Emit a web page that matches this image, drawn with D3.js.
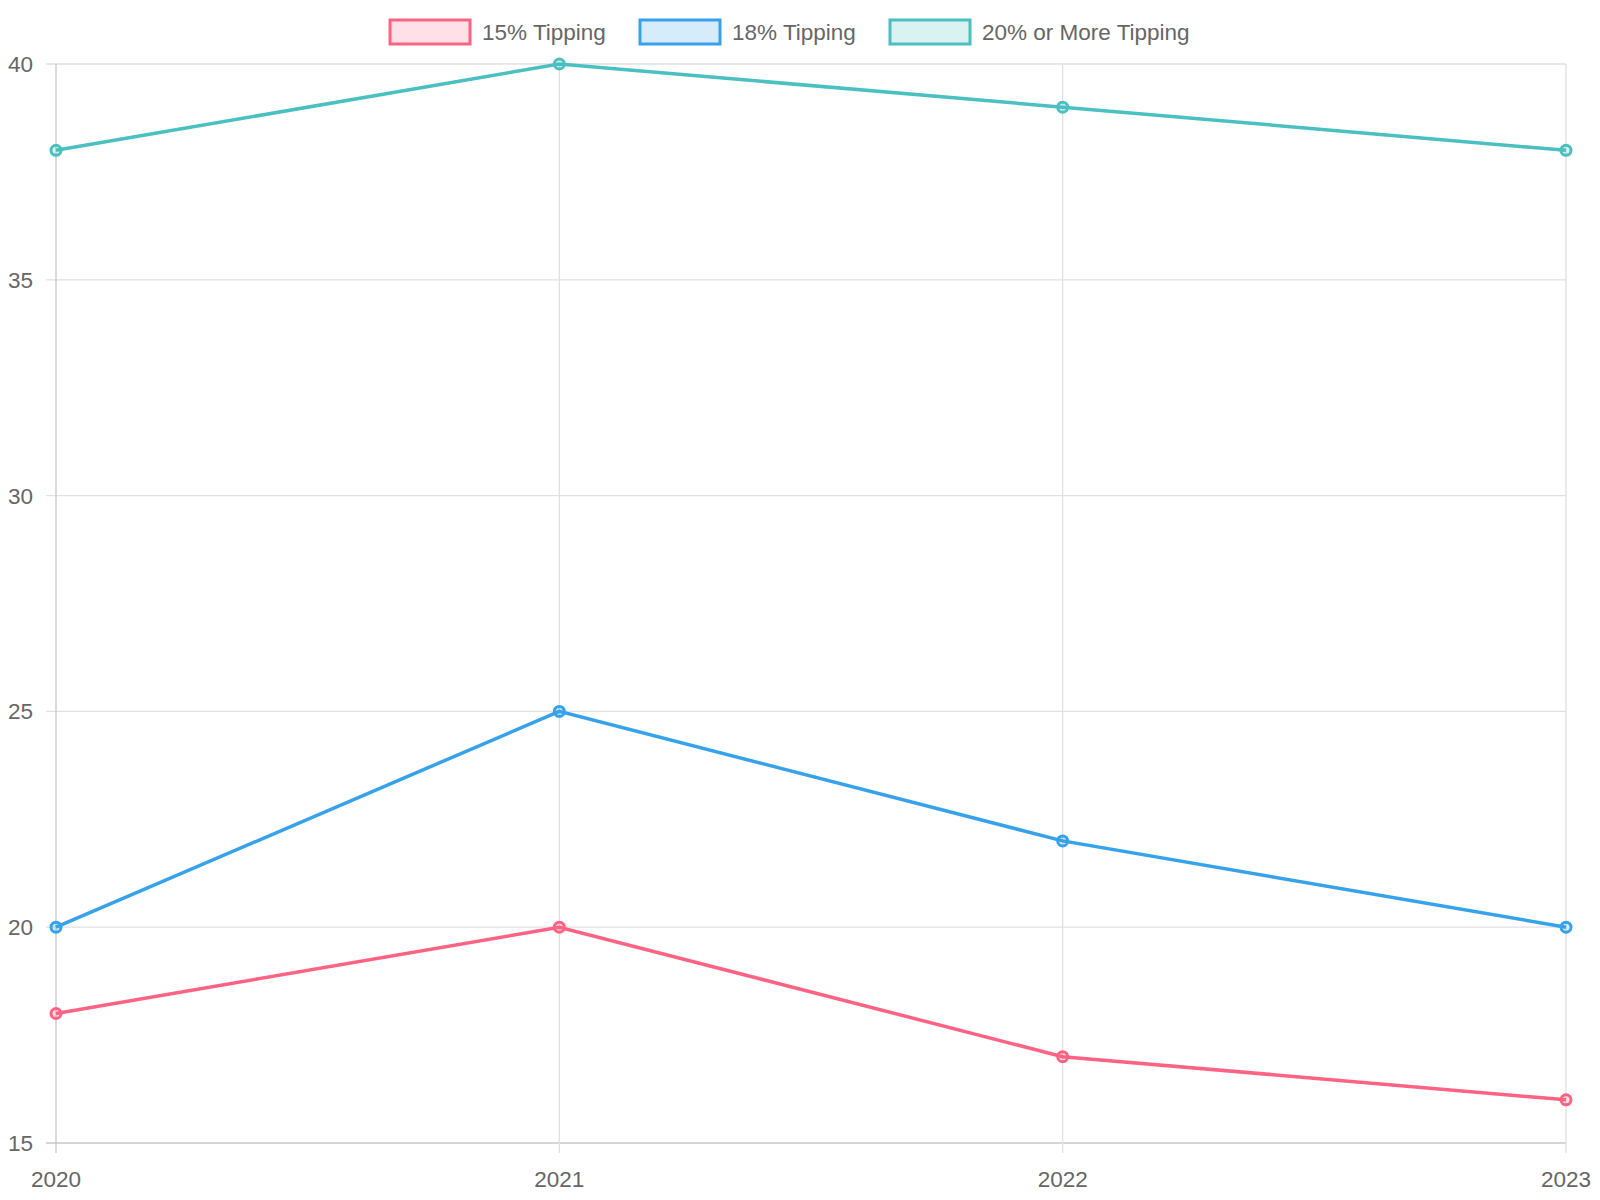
<!DOCTYPE html>
<html>
<head>
<meta charset="utf-8">
<script src="https://cdn.jsdelivr.net/npm/d3@7"></script>
<style>
  body { margin: 0; background: #fff; }
  text { font-family: "Liberation Sans", Arial, sans-serif; fill: #666; }
</style>
</head>
<body>
<div id="chart"></div>
<script>
var years = ["2020", "2021", "2022", "2023"];
var tip15 = [18, 20, 17, 16];
var tip18 = [20, 25, 22, 20];
var tip20 = [38, 40, 39, 38];
var seriesNames = ["15% Tipping", "18% Tipping", "20% or More Tipping"];
var seriesColors = ["#ff6384", "#36a2eb", "#4bc0c0"];
var seriesFills = ["rgba(255,99,132,0.2)", "rgba(54,162,235,0.2)", "rgba(75,192,192,0.2)"];
var yTicks = [15, 20, 25, 30, 35, 40];

var width = 1600, height = 1200;
var plotLeft = 56, plotRight = 1566, plotTop = 64, plotBottom = 1143;

var svg = d3.select("#chart").append("svg")
    .attr("width", width)
    .attr("height", height);

var x = d3.scalePoint().domain(years).range([plotLeft, plotRight]);
var y = d3.scaleLinear().domain([15, 40]).range([plotBottom, plotTop]);

// grid
svg.append("g").selectAll("line").data(yTicks).enter().append("line")
    .attr("x1", plotLeft - 10).attr("x2", plotRight)
    .attr("y1", function (d) { return y(d); })
    .attr("y2", function (d) { return y(d); })
    .attr("stroke", function (d) { return d === 15 ? "#c8c8c8" : "#e1e1e1"; })
    .attr("stroke-width", 1.3);
svg.append("g").selectAll("line").data(years).enter().append("line")
    .attr("x1", function (d) { return x(d); })
    .attr("x2", function (d) { return x(d); })
    .attr("y1", plotTop).attr("y2", plotBottom + 10)
    .attr("stroke", function (d, i) { return i === 0 ? "#c8c8c8" : "#e1e1e1"; })
    .attr("stroke-width", 1.3);

// tick labels
svg.append("g").selectAll("text").data(yTicks).enter().append("text")
    .attr("x", 33).attr("y", function (d) { return y(d) + 8; })
    .attr("text-anchor", "end")
    .attr("font-size", "22.5px")
    .text(function (d) { return d; });
svg.append("g").selectAll("text").data(years).enter().append("text")
    .attr("x", function (d) { return x(d); })
    .attr("y", plotBottom + 44)
    .attr("text-anchor", "middle")
    .attr("font-size", "22.5px")
    .text(function (d) { return d; });

// lines
var allSeries = [tip15, tip18, tip20];
var line = d3.line()
    .x(function (d, i) { return x(years[i]); })
    .y(function (d) { return y(d); });

allSeries.forEach(function (vals, s) {
    svg.append("path")
        .datum(vals)
        .attr("d", line)
        .attr("fill", "none")
        .attr("stroke", seriesColors[s])
        .attr("stroke-width", 3.5);
    svg.append("g").selectAll("circle").data(vals).enter().append("circle")
        .attr("cx", function (d, i) { return x(years[i]); })
        .attr("cy", function (d) { return y(d); })
        .attr("r", 5)
        .attr("fill", seriesFills[s])
        .attr("stroke", seriesColors[s])
        .attr("stroke-width", 3);
});

// legend
var legendX = [390, 640, 890];
var legend = svg.append("g");
seriesNames.forEach(function (name, s) {
    legend.append("rect")
        .attr("x", legendX[s]).attr("y", 20)
        .attr("width", 80).attr("height", 24)
        .attr("fill", seriesFills[s])
        .attr("stroke", seriesColors[s])
        .attr("stroke-width", 3);
    legend.append("text")
        .attr("x", legendX[s] + 92).attr("y", 40)
        .attr("font-size", "22.5px")
        .text(name);
});
</script>
</body>
</html>
